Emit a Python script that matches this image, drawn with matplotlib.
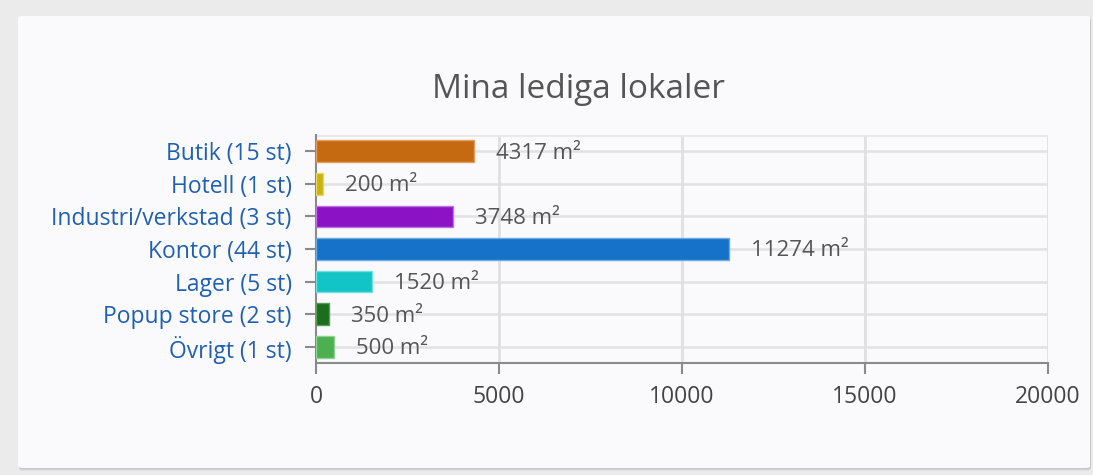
import matplotlib
matplotlib.use("Agg")
import matplotlib.pyplot as plt
from matplotlib.patches import FancyBboxPatch

categories = ["Butik (15 st)", "Hotell (1 st)", "Industri/verkstad (3 st)",
              "Kontor (44 st)", "Lager (5 st)", "Popup store (2 st)", "Övrigt (1 st)"]
areas = [4317, 200, 3748, 11274, 1520, 350, 500]
bar_colors = ["#c66a12", "#c9b312", "#8b13c5", "#1572c8", "#13c4c6", "#1b6e1c", "#4caf50"]
edge_colors = ["#e0a060", "#e6d860", "#c070e0", "#70a8e0", "#70e0e0", "#5a9a5a", "#90d090"]
x_ticks = [0, 5000, 10000, 15000, 20000]
title = "Mina lediga lokaler"

W, H, DPI = 1093, 475, 100
plt.rcParams["font.family"] = ["Open Sans", "DejaVu Sans"]

fig = plt.figure(figsize=(W / DPI, H / DPI), dpi=DPI)
fig.patch.set_facecolor("#ebebeb")

def fx(px):
    return px / W

def fy(py):
    return 1 - py / H

# card with soft shadow
for i, a in enumerate([0.05, 0.05, 0.06]):
    off = 3 - i
    shadow = FancyBboxPatch((fx(18 + 1), fy(468 + off)), fx(1090 - 18), (468 - 16) / H,
                            boxstyle="round,pad=0,rounding_size=0.004",
                            transform=fig.transFigure, facecolor="#000000",
                            alpha=a, edgecolor="none", zorder=0)
    fig.patches.append(shadow)
card = FancyBboxPatch((fx(18), fy(468)), fx(1090 - 18), (468 - 16) / H,
                      boxstyle="round,pad=0,rounding_size=0.004",
                      transform=fig.transFigure, facecolor="#fafafc",
                      edgecolor="none", zorder=1)
fig.patches.append(card)

left, right, top, bottom = 316, 1048, 135, 363
ax = fig.add_axes([fx(left), fy(bottom), fx(right - left), (bottom - top) / H])
ax.set_facecolor("none")
ax.set_zorder(2)

n = len(categories)
ypos = list(range(n))
ax.barh(ypos, areas, height=0.67, color=bar_colors, edgecolor=edge_colors,
        linewidth=1, zorder=3)

ax.set_xlim(0, 20000)
ax.set_ylim(n - 0.5, -0.5)
ax.set_xticks(x_ticks)
ax.set_xticklabels([str(t) for t in x_ticks])
ax.set_yticks(ypos)
ax.set_yticklabels(categories)

# grid through category centres and at x ticks
for y in ypos:
    ax.axhline(y, color="#e2e2e2", lw=1.8, zorder=1)
for x in x_ticks[1:]:
    ax.axvline(x, color="#e0e0e0", lw=2, zorder=1)
ax.axhline(-0.5, color="#e8e8e8", lw=2, zorder=1)

for s in ["top", "right"]:
    ax.spines[s].set_visible(False)
for s in ["left", "bottom"]:
    ax.spines[s].set_color("#8a8a8a")
    ax.spines[s].set_linewidth(1.5)

ax.tick_params(axis="y", length=8, width=1.5, color="#8a8a8a",
               labelcolor="#2060b0", labelsize=16.5, pad=9.5)
ax.tick_params(axis="x", length=8, width=1.5, color="#8a8a8a",
               labelcolor="#444444", labelsize=16.5, pad=8)

for y, v in zip(ypos, areas):
    ax.annotate(f"{v} m²", xy=(v, y), xytext=(22, -2), textcoords="offset pixels",
                va="center", ha="left", fontsize=16, color="#555555", zorder=4)

fig.text(fx(578), fy(90), title, ha="center", va="center", fontsize=24,
         color="#555555", zorder=3)

fig.savefig("out.png", dpi=DPI, facecolor=fig.get_facecolor())
